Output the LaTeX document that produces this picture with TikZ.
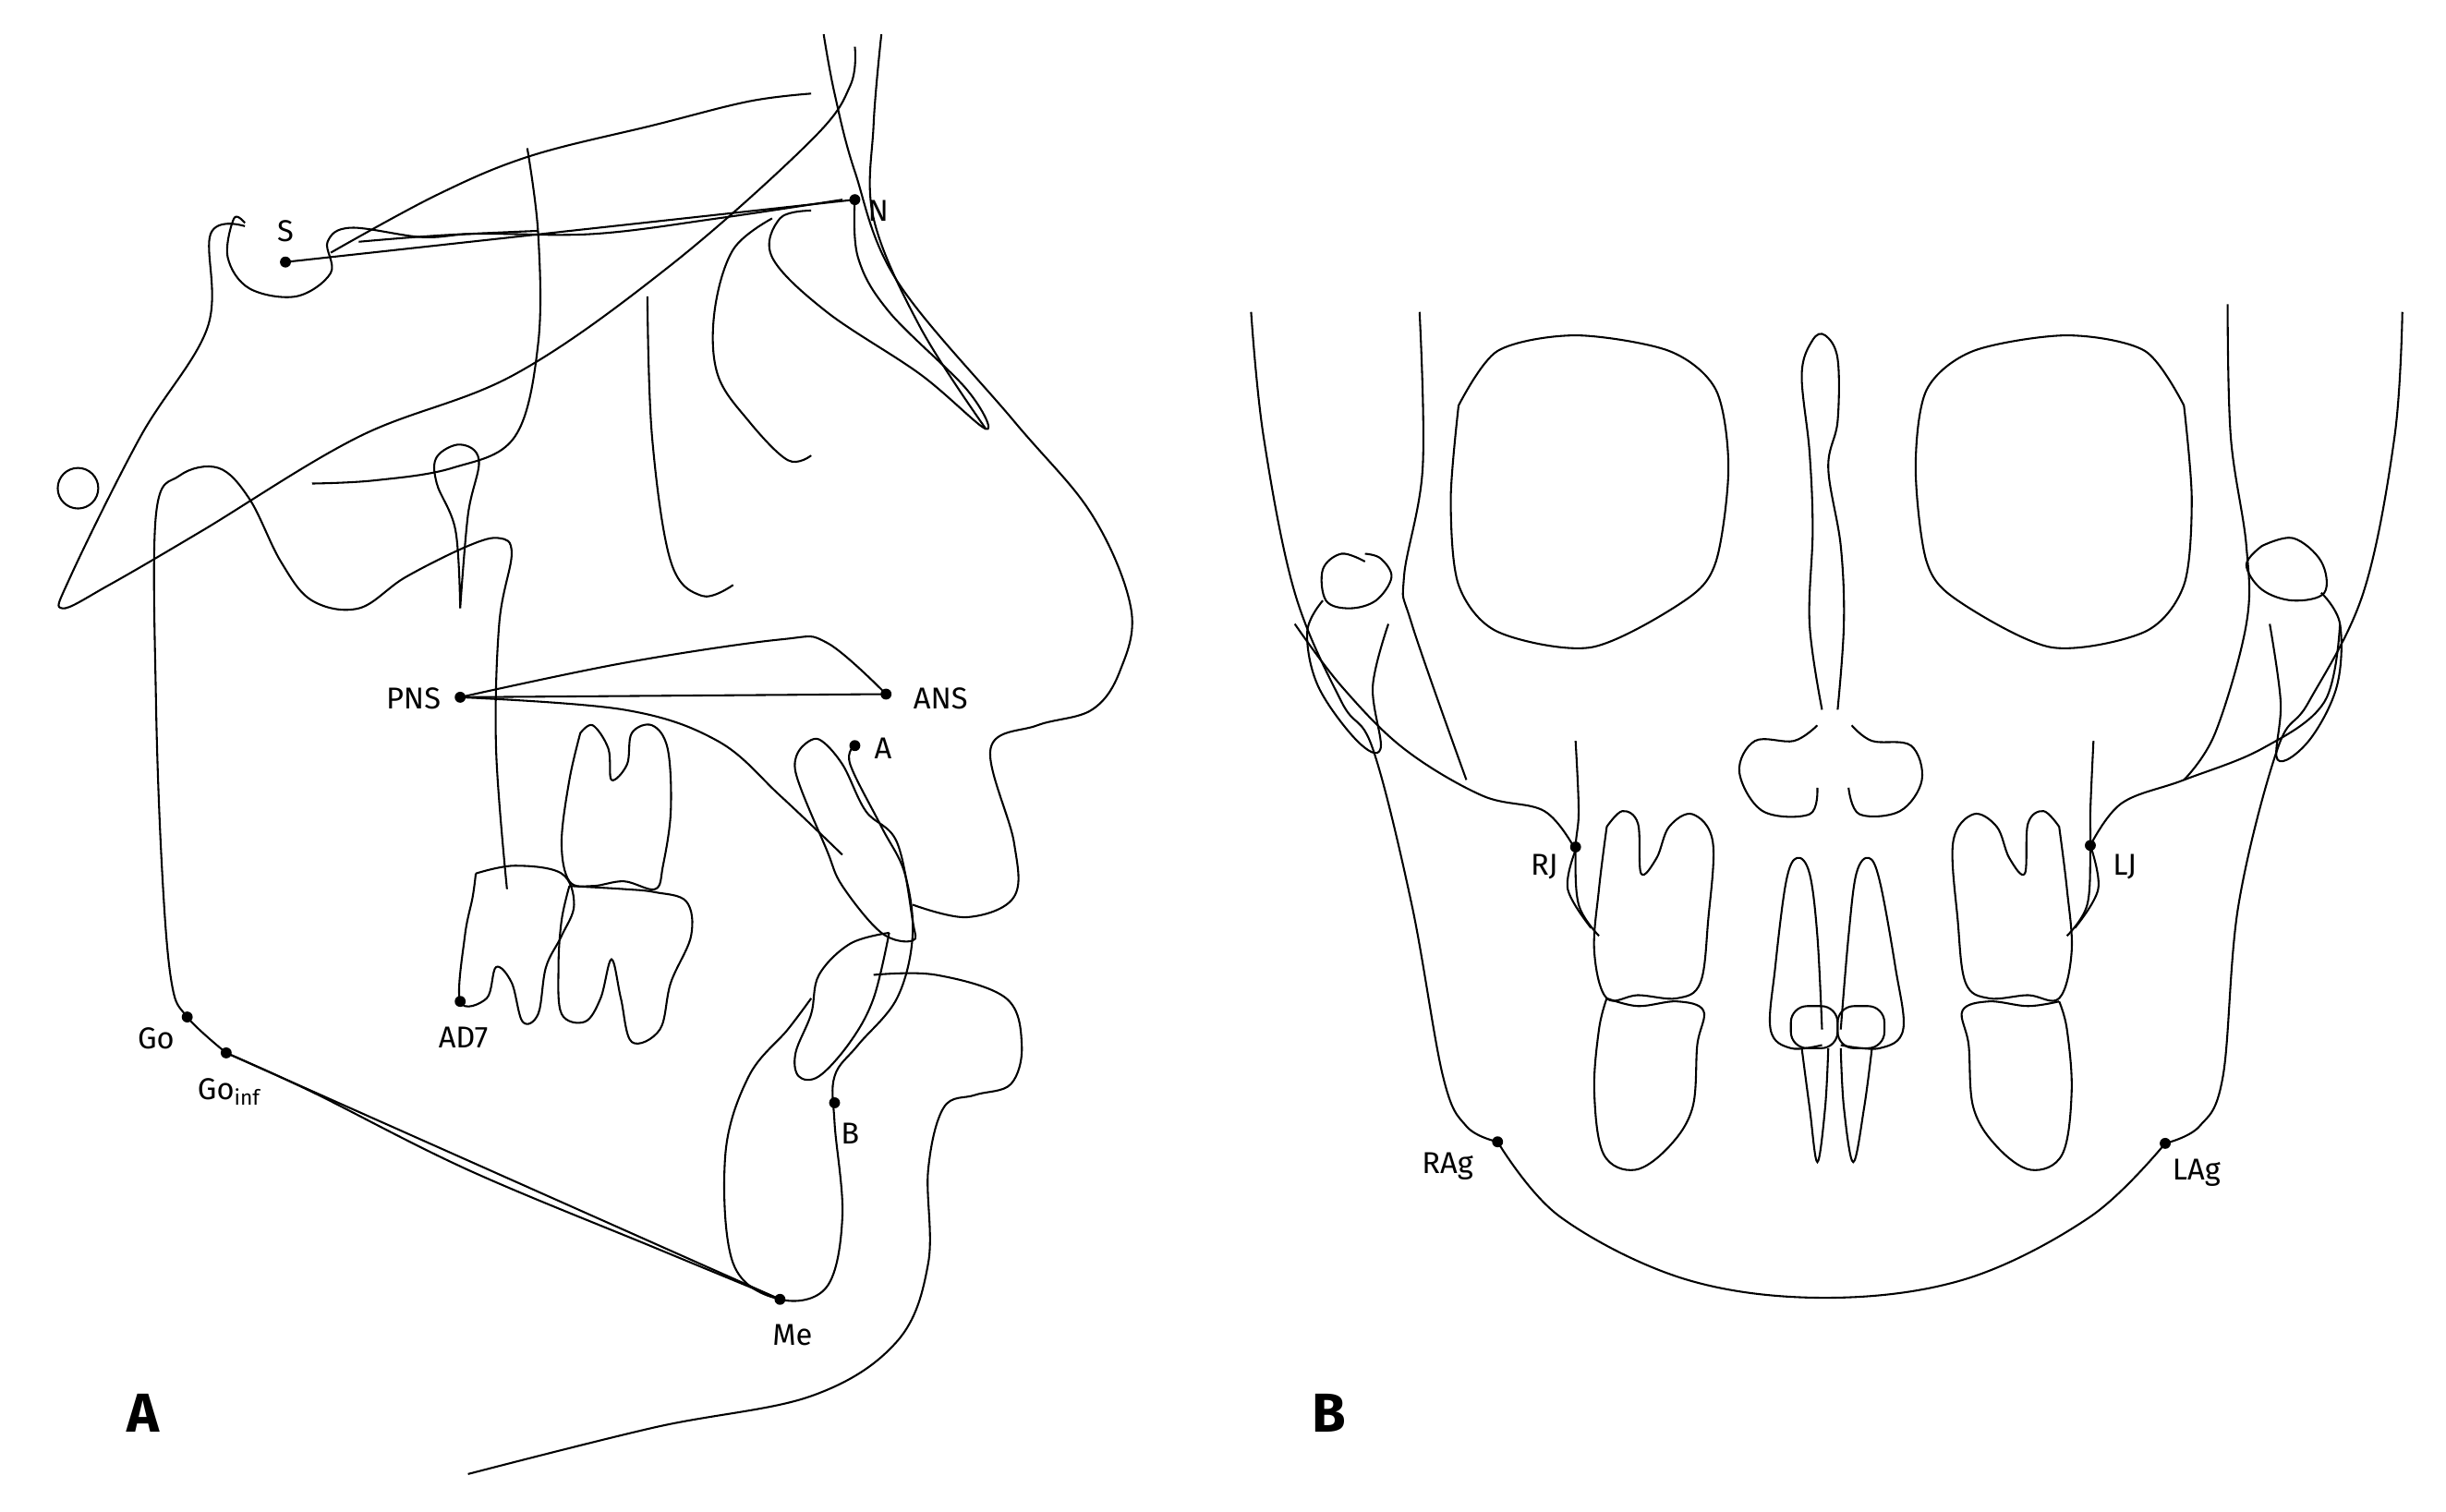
\documentclass[tikz,border=0pt]{standalone}
\usepackage{fontspec}
\setmainfont{Fira Sans}
\begin{document}
\begin{tikzpicture}[x=0.02cm,y=-0.02cm,line width=0.7pt,
  ln/.style={draw,line width=0.6pt},
  sm/.style={smooth,tension=0.6},
  pt/.style={circle,fill,inner sep=0pt,minimum size=4pt},
  lab/.style={font=\fontsize{11}{12}\selectfont,inner sep=1pt},
  big/.style={font=\bfseries\fontsize{20}{22}\selectfont}]
\useasboundingbox (0,0) rectangle (1568,969);
% ---------- A ----------
\coordinate (S) at (183,168); \coordinate (N) at (548,128);
\coordinate (PNS) at (295,447); \coordinate (ANS) at (568,445);
\coordinate (Apt) at (548,478); \coordinate (Bpt) at (535,707);
\coordinate (Go) at (120,652); \coordinate (Goi) at (145,675);
\coordinate (Me) at (500,833); \coordinate (AD) at (295,642);
\draw (S)--(N);
\draw (PNS)--(ANS);
\draw plot[sm] coordinates {(295,447)(400,425)(500,410)(530,412)(568,445)};
\draw plot[sm] coordinates {(295,447)(400,455)(460,475)(500,510)(540,548)};
\draw (Goi)--(Me);
\draw plot[sm] coordinates {(145,675)(200,700)(300,750)(420,800)(500,833)};
% sella
\draw plot[sm] coordinates {(157,143)(150,140)(146,165)(160,185)(190,190)(212,175)(210,155)(225,146)(270,152)(300,150)(345,148)};
\draw plot[sm] coordinates {(212,162)(280,125)(340,100)(420,80)(480,65)(520,60)};
\draw plot[sm] coordinates {(230,155)(300,150)(380,150)(460,140)(540,128)};
\draw plot[sm] coordinates {(157,145)(135,150)(133,210)(90,280)(45,370)(40,390)(70,375)(130,340)(230,280)(330,240)(430,170)(520,90)(545,55)(548,30)};
\draw (50,313) circle (13);
% pterygoid teardrop
\draw plot[sm] coordinates {(295,390)(292,340)(280,310)(280,293)(295,285)(307,295)(300,330)(295,390)};
% big curve with ramus
\draw plot[sm] coordinates {(338,95)(345,150)(345,220)(330,280)(290,300)(240,308)(200,310)};
\draw plot[sm] coordinates {(325,570)(318,480)(320,400)(328,355)(320,345)(300,350)(260,370)(230,390)(200,385)(180,360)(160,320)(140,300)(115,305)(100,330)(100,450)(104,560)(110,630)(120,652)(145,675)};
% orbits
\draw plot[sm] coordinates {(415,190)(418,280)(430,360)(450,382)(470,375)};
\draw plot[sm] coordinates {(495,140)(470,160)(458,200)(460,240)(480,270)(505,295)(520,292)};
\draw plot[sm] coordinates {(520,135)(500,140)(495,165)(530,200)(590,240)(632,275)(620,250)(570,200)(550,165)(548,128)};
\draw plot[sm] coordinates {(565,22)(560,80)(560,140)(590,210)(632,275)};
% soft tissue profile
\draw plot[sm] coordinates {(528,22)(535,60)(548,110)(575,180)(650,270)(700,330)(725,390)(718,430)(700,455)(665,465)(635,480)(650,540)(650,575)(620,588)(585,580)};
\draw plot[sm] coordinates {(560,625)(600,625)(645,640)(655,670)(648,695)(625,702)(605,710)(595,750)(595,810)(575,860)(520,895)(420,915)(300,945)};
% symphysis
\draw plot[sm] coordinates {(548,478)(545,490)(565,530)(580,560)(585,600)(575,640)(550,670)(535,690)(535,720)(540,780)(530,825)(500,833)(470,810)(465,740)(480,690)(505,660)(520,640)};
% upper incisor
\draw plot[sm] coordinates {(515,478)(525,474)(540,490)(555,520)(575,540)(585,590)(585,603)(565,598)(540,568)(530,545)(510,495)(515,478)};
% lower incisor
\draw plot[sm] coordinates {(570,598)(560,640)(545,668)(525,690)(512,690)(510,675)(520,650)(525,625)(545,605)(570,598)};
% molars
\draw plot[sm] coordinates {(372,470)(380,465)(390,480)(392,500)(402,490)(405,470)(418,465)(428,480)(430,520)(425,555)(420,570)(400,565)(380,568)(365,565)(360,540)(365,500)(372,470)};
\draw plot[sm] coordinates {(365,568)(400,570)(420,572)(440,578)(443,600)(430,630)(423,660)(405,668)(398,640)(392,615)(385,640)(375,655)(360,650)(358,620)(360,590)(365,568)};
\draw plot[sm] coordinates {(305,560)(330,555)(360,560)(368,580)(360,600)(350,620)(345,650)(335,655)(328,630)(318,620)(312,640)(295,642)(298,600)(303,575)(305,560)};
\node[pt] at (S){}; \node[pt] at (N){}; \node[pt] at (PNS){}; \node[pt] at (ANS){};
\node[pt] at (Apt){}; \node[pt] at (Bpt){}; \node[pt] at (Go){}; \node[pt] at (Goi){};
\node[pt] at (Me){}; \node[pt] at (AD){};
\node[lab] (lS) at (183,148) {S};
\node[lab] (lN) at (563,135) {N};
\node[lab] (lPNS) at (265,448) {PNS};
\node[lab] (lANS) at (603,448) {ANS};
\node[lab] (lA) at (566,480) {A};
\node[lab] (lB) at (545,727) {B};
\node[lab] (lGo) at (100,666) {Go};
\node[lab] (lGoi) at (147,700) {Go$_{\mathrm{inf}}$};
\node[lab] (lMe) at (508,856) {Me};
\node[lab] (lAD) at (297,665) {AD7};
\node[big] (bA) at (92,906) {A};
% ---------- B ----------
\draw plot[sm] coordinates {(802,200)(810,280)(830,380)(860,450)(880,480)(905,580)(925,690)(940,722)(960,732)};
\draw plot[sm] coordinates {(960,732)(1000,780)(1080,820)(1170,832)(1260,820)(1340,780)(1388,733)};
\draw plot[sm] coordinates {(1388,733)(1410,722)(1425,690)(1435,580)(1460,480)(1480,450)(1515,380)(1535,280)(1540,200)};
\draw plot[sm] coordinates {(910,200)(912,300)(900,370)(905,400)(940,500)};
\draw plot[sm] coordinates {(1428,195)(1430,280)(1440,350)(1440,400)(1420,470)(1400,500)};
% condyles
\draw plot[sm] coordinates {(875,360)(860,355)(848,365)(850,385)(865,390)(882,385)(892,370)(885,358)(875,355)};
\draw plot[sm] coordinates {(848,385)(838,405)(845,440)(870,475)(885,480)(880,440)(890,400)};
\draw plot[sm] coordinates {(830,400)(860,440)(900,480)(950,510)(990,520)(1010,545)};
\draw plot[sm] coordinates {(1450,350)(1470,345)(1488,360)(1490,380)(1470,385)(1450,378)(1440,362)(1450,350)};
\draw plot[sm] coordinates {(1488,380)(1500,400)(1498,440)(1480,475)(1460,487)(1462,450)(1455,400)};
\draw plot[sm] coordinates {(1500,400)(1490,450)(1450,480)(1400,500)(1360,515)(1340,542)};
% orbits
\draw plot[sm, tension=0.5] coordinates {(935,260)(960,225)(1010,215)(1070,225)(1100,250)(1108,300)(1100,360)(1080,385)(1020,415)(960,405)(935,375)(930,320)(935,260)};
\draw plot[sm, tension=0.5] coordinates {(1400,260)(1375,225)(1325,215)(1265,225)(1235,250)(1228,300)(1235,360)(1255,385)(1315,415)(1375,405)(1400,375)(1405,320)(1400,260)};
% septum
\draw plot[sm] coordinates {(1168,455)(1160,400)(1162,340)(1160,290)(1155,240)(1162,218)(1170,215)(1178,230)(1178,270)(1172,300)(1180,350)(1182,400)(1178,455)};
\draw plot[sm] coordinates {(1165,465)(1150,475)(1125,475)(1115,495)(1130,520)(1160,522)(1165,505)};
\draw plot[sm] coordinates {(1187,465)(1200,475)(1225,478)(1232,500)(1218,520)(1192,522)(1185,505)};
% jugal lines
\draw plot[sm] coordinates {(1010,475)(1012,520)(1010,545)(1012,580)(1025,600)};
\draw plot[sm] coordinates {(1010,545)(1005,570)(1020,595)};
\draw plot[sm] coordinates {(1342,475)(1340,520)(1340,542)(1338,580)(1325,600)};
\draw plot[sm] coordinates {(1340,542)(1345,570)(1330,595)};
% left teeth
\draw plot[sm] coordinates {(1030,530)(1040,520)(1050,528)(1052,560)(1062,550)(1070,530)(1085,522)(1098,540)(1095,590)(1090,630)(1075,640)(1050,638)(1030,640)(1022,610)(1025,570)(1030,530)};
\draw plot[sm] coordinates {(1030,640)(1050,645)(1075,642)(1092,648)(1088,670)(1085,710)(1070,735)(1048,750)(1028,740)(1022,700)(1025,660)(1030,640)};
% right teeth
\draw plot[sm] coordinates {(1320,530)(1310,520)(1300,528)(1298,560)(1288,550)(1280,530)(1265,522)(1252,540)(1255,590)(1260,630)(1275,640)(1300,638)(1320,640)(1328,610)(1325,570)(1320,530)};
\draw plot[sm] coordinates {(1320,642)(1300,645)(1275,642)(1258,648)(1262,670)(1265,710)(1280,735)(1302,750)(1322,740)(1328,700)(1325,660)(1320,642)};
% incisors
\draw plot[sm] coordinates {(1168,660)(1165,600)(1160,560)(1152,550)(1145,565)(1138,620)(1135,660)(1148,672)(1168,670)};
\draw plot[sm] coordinates {(1180,660)(1185,600)(1190,560)(1198,550)(1205,565)(1215,620)(1220,660)(1205,672)(1180,670)};
\draw[rounded corners=6] (1148,645) rectangle (1178,672);
\draw[rounded corners=6] (1178,645) rectangle (1208,672);
\draw plot[sm] coordinates {(1155,672)(1160,710)(1165,745)(1170,710)(1172,672)};
\draw plot[sm] coordinates {(1180,672)(1182,710)(1188,745)(1195,710)(1200,672)};
\coordinate (RJ) at (1010,543); \coordinate (LJ) at (1340,542);
\coordinate (RAg) at (960,732); \coordinate (LAg) at (1388,733);
\node[pt] at (RJ){}; \node[pt] at (LJ){}; \node[pt] at (RAg){}; \node[pt] at (LAg){};
\node[lab] (lRJ) at (990,556) {RJ};
\node[lab] (lLJ) at (1362,556) {LJ};
\node[lab] (lRAg) at (928,748) {RAg};
\node[lab] (lLAg) at (1408,752) {LAg};
\node[big] (bB) at (852,906) {B};
\end{tikzpicture}
\end{document}
